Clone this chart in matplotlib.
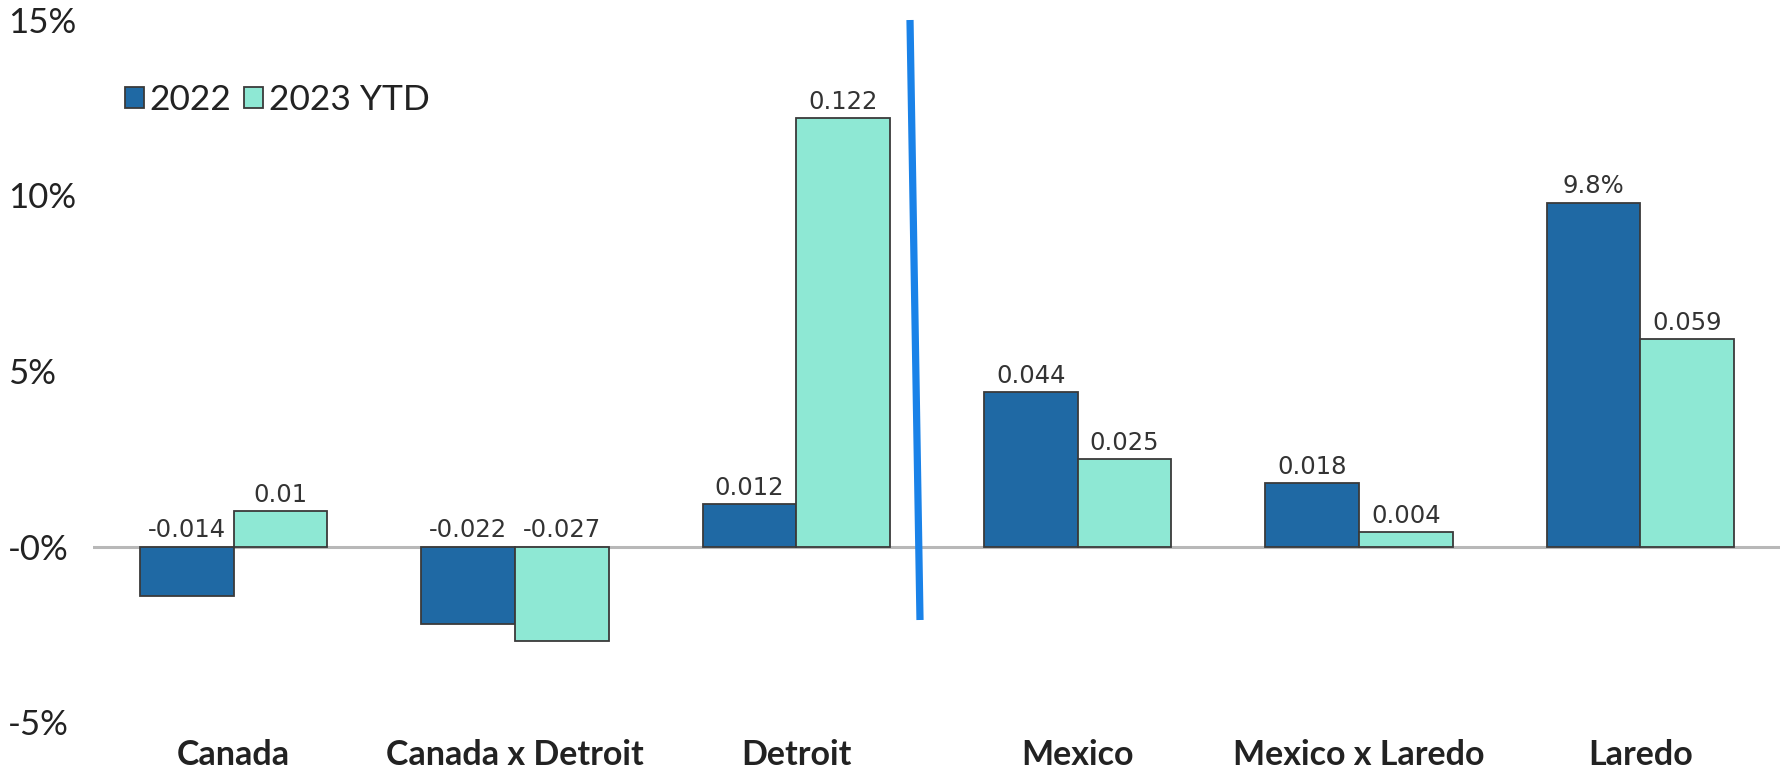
import matplotlib
matplotlib.use("Agg")
import matplotlib.pyplot as plt
import numpy as np
from matplotlib import font_manager
from matplotlib.lines import Line2D

categories = ["Canada", "Canada x Detroit", "Detroit", "Mexico", "Mexico x Laredo", "Laredo"]
series_names = ["2022", "2023 YTD"]
values_2022 = [-0.014, -0.022, 0.012, 0.044, 0.018, 0.098]
values_2023 = [0.010, -0.027, 0.122, 0.025, 0.004, 0.059]
labels_2022 = ["-0.014", "-0.022", "0.012", "0.044", "0.018", "9.8%"]
labels_2023 = ["0.01", "-0.027", "0.122", "0.025", "0.004", "0.059"]
yticks = [-0.05, 0.0, 0.05, 0.10, 0.15]
ytick_labels = ["-5%", "-0%", "5%", "10%", "15%"]

names = {f.name for f in font_manager.fontManager.ttflist}
narrow = "Liberation Sans Narrow" if "Liberation Sans Narrow" in names else "Lato"

W, H = 1781, 776
fig = plt.figure(figsize=(W / 100, H / 100), dpi=100)
ax = fig.add_axes([93 / W, 1 - 722 / H, 1 - 93 / W, (722 - 20) / H])

c1 = "#1F69A4"
c2 = "#8EE8D4"
edge = "#3a3a3a"
x = np.arange(len(categories))
bw = 0.333
b1 = ax.bar(x - bw / 2, values_2022, bw, color=c1, edgecolor=edge, linewidth=1.3, label=series_names[0], zorder=3)
b2 = ax.bar(x + bw / 2, values_2023, bw, color=c2, edgecolor=edge, linewidth=1.3, label=series_names[1], zorder=3)

ax.axhline(0, color="#b8b8b8", lw=2.2, zorder=2)

for bars, vals, labs in ((b1, values_2022, labels_2022), (b2, values_2023, labels_2023)):
    for rect, v, lab in zip(bars, vals, labs):
        top = max(v, 0)
        ax.annotate(lab, (rect.get_x() + rect.get_width() / 2, top), xytext=(0, 3),
                    textcoords="offset points", ha="center", va="bottom",
                    fontsize=17.5, family="DejaVu Sans", color="#333333")

ax.set_xlim(-0.5, len(categories) - 0.5)
ax.set_ylim(-0.05, 0.15)
ax.set_yticks(yticks)
ax.set_yticklabels(ytick_labels, fontsize=25, family=narrow, color="#222222")
for lab in ax.get_yticklabels():
    lab.set_ha("left")
ax.tick_params(axis="y", length=0, pad=61)
ax.set_xticks(x)
ax.set_xticklabels(categories, fontsize=24.5, family=narrow, fontweight="bold", color="#222222")
ax.tick_params(axis="x", length=0, pad=12)
for s in ax.spines.values():
    s.set_visible(False)

leg = ax.legend(loc="center left", bbox_to_anchor=(107 / W, 1 - 100 / H), bbox_transform=fig.transFigure,
                ncol=2, frameon=False, handlelength=0.55, handleheight=0.55, handletextpad=0.15,
                columnspacing=0.35, borderpad=0, prop={"family": narrow, "size": 25.5})
for t in leg.get_texts():
    t.set_color("#222222")

fig.add_artist(Line2D([910 / W, 920 / W], [1 - 20 / H, 1 - 620 / H], transform=fig.transFigure,
                      color="#1A82E8", lw=5.2, solid_capstyle="butt"))

fig.savefig("out.png", dpi=100)
